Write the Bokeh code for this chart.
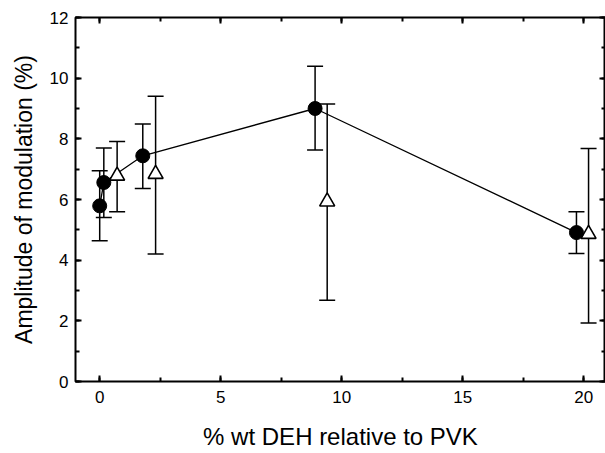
from bokeh.plotting import figure
from bokeh.models import Range1d, LinearAxis, Whisker, ColumnDataSource, SingleIntervalTicker, CustomJSTickFormatter
from bokeh.embed import file_html
from bokeh.resources import INLINE

# Filled circles (connected by line)
circ_x = [0.0, 0.17, 1.78, 8.9, 19.7]
circ_y = [5.79, 6.56, 7.44, 9.0, 4.91]
circ_up = [6.95, 7.70, 8.49, 10.39, 5.60]
circ_lo = [4.64, 5.41, 6.36, 7.63, 4.22]

# Open triangles
tri_x = [0.72, 2.31, 9.4, 20.2]
tri_y = [6.78, 6.84, 5.93, 4.86]
tri_up = [7.91, 9.40, 9.15, 7.68]
tri_lo = [5.60, 4.20, 2.68, 1.93]

x_label = "% wt DEH relative to PVK"
y_label = "Amplitude of modulation (%)"

FONT = "Liberation Sans"

p = figure(width=605, height=453, output_backend="svg", toolbar_location=None,
           x_range=Range1d(-1.0, 20.9), y_range=Range1d(0, 12),
           min_border_left=75, min_border_right=0, min_border_top=17, min_border_bottom=72)
p.grid.visible = False
p.outline_line_color = "black"
p.outline_line_width = 2
p.background_fill_color = "white"
p.border_fill_color = "white"

cs = ColumnDataSource(dict(x=circ_x, y=circ_y, up=circ_up, lo=circ_lo))
ts = ColumnDataSource(dict(x=tri_x, y=tri_y, up=tri_up, lo=tri_lo))

p.line("x", "y", source=cs, line_color="black", line_width=1.3)

for src in (cs, ts):
    w = Whisker(source=src, base="x", upper="up", lower="lo", dimension="height",
                line_color="black", line_width=1.5)
    w.upper_head.size = 16
    w.lower_head.size = 16
    w.upper_head.line_width = 1.5
    w.lower_head.line_width = 1.5
    p.add_layout(w)

p.scatter("x", "y", source=ts, marker="triangle", size=15, fill_color="white",
          line_color="black", line_width=1.6)
p.scatter("x", "y", source=cs, marker="circle", size=14, fill_color="black",
          line_color="black")

xa = p.xaxis[0]
ya = p.yaxis[0]
top = LinearAxis()
right = LinearAxis()
p.add_layout(top, "above")
p.add_layout(right, "right")

def style(ax, interval, labels=True):
    ax.ticker = SingleIntervalTicker(interval=interval, num_minor_ticks=2)
    ax.axis_line_color = None
    ax.major_tick_in = 6
    ax.major_tick_out = 0
    ax.minor_tick_in = 4
    ax.minor_tick_out = 0
    ax.major_tick_line_width = 2
    ax.minor_tick_line_width = 2
    ax.major_label_text_font = FONT
    ax.major_label_text_font_size = "17px"
    ax.major_label_text_color = "black"
    ax.axis_label_text_font = FONT
    ax.axis_label_text_font_style = "normal"
    ax.axis_label_text_color = "black"
    if not labels:
        ax.formatter = CustomJSTickFormatter(code="return ''")
        ax.major_label_standoff = 0

style(xa, 5)
style(ya, 2)
style(top, 5, False)
style(right, 2, False)
xa.axis_label = x_label
ya.axis_label = y_label
xa.axis_label_text_font_size = "24px"
ya.axis_label_text_font_size = "23px"
xa.major_label_standoff = 9
ya.major_label_standoff = 7
xa.axis_label_standoff = 17
ya.axis_label_standoff = 10

open("out.html", "w").write(file_html(p, INLINE))
